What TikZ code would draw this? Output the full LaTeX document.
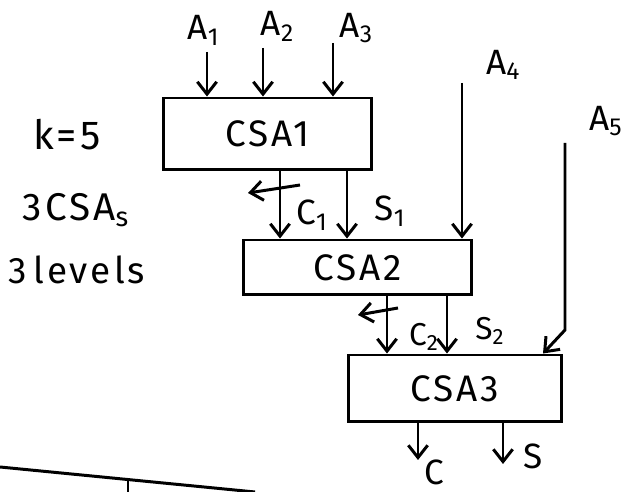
\documentclass[tikz,border=0pt]{standalone}
\usepackage{fontspec}
\newfontfamily\hand[LetterSpace=8]{Fira Sans}
\usepackage{tikz}
\usetikzlibrary{positioning,arrows.meta}

\begin{document}
\begin{tikzpicture}[x=0.02cm, y=-0.02cm, line width=1.7pt,
  csa node/.style={draw, rectangle, font=\hand\fontsize{21}{24}\selectfont},
  label node/.style={inner sep=1pt, font=\hand\fontsize{20}{24}\selectfont},
  arr/.style={-{Straight Barb[length=7pt,width=11pt]}}]
  \useasboundingbox (0,0) rectangle (636,492);
  % the three adders
  \node[csa node, minimum width=4.18cm, minimum height=1.44cm] (csa1) at (267.5,134) {CSA1};
  \node[csa node, minimum width=4.58cm, minimum height=1.1cm] (csa2) at (357.5,267.5) {CSA2};
  \node[csa node, minimum width=4.28cm, minimum height=1.34cm] (csa3) at (455,388.5) {CSA3};
  % inputs
  \coordinate (t1) at (207,52);
  \coordinate (t2) at (263,48);
  \coordinate (t3) at (333,43);
  \coordinate (t4) at (462,83);
  \coordinate (t5) at (565,143);
  \coordinate (b5) at (565,330);
  \node[label node, above=2pt of t1, xshift=-2pt] (a1) {A\textsubscript{1}};
  \node[label node, above right=2pt and -3pt of t2] (a2) {A\textsubscript{2}};
  \node[label node, above right=-2pt and 2pt of t3] (a3) {A\textsubscript{3}};
  \node[label node, above right=0pt and 12pt of t4] (a4) {A\textsubscript{4}};
  \node[label node, above right=2pt and 12pt of t5] (a5) {A\textsubscript{5}};
  \draw[arr] (t1) -- (t1 |- csa1.north);
  \draw[arr] (t2) -- (t2 |- csa1.north);
  \draw[arr] (t3) -- (t3 |- csa1.north);
  \draw[arr] (t4) -- (t4 |- csa2.north);
  \draw[arr] (t5) -- (b5) -- ([xshift=-0.44cm]b5 |- csa3.north);
  % carry and sum lines
  \coordinate (c1) at (280,185);
  \coordinate (s1) at (347,185);
  \coordinate (c2) at (387,308);
  \coordinate (s2) at (447,308);
  \draw[arr] (c1 |- csa1.south) -- (c1 |- csa2.north);
  \draw[arr] (s1 |- csa1.south) -- (s1 |- csa2.north);
  \draw[arr] ([shift={(20,0)}]c1) -- ([shift={(-32,8)}]c1);
  \draw[arr] (c2 |- csa2.south) -- (c2 |- csa3.north);
  \draw[arr] (s2 |- csa2.south) -- (s2 |- csa3.north);
  \draw[arr] ([shift={(11,0)}]c2) -- ([shift={(-29,7)}]c2);
  \node[label node] (lc1) at (312,215) {C\textsubscript{1}};
  \node[label node] (ls1) at (390,211) {S\textsubscript{1}};
  \node[label node, font=\hand\fontsize{18}{20}\selectfont] (lc2) at (424,337) {C\textsubscript{2}};
  \node[label node, font=\hand\fontsize{18}{20}\selectfont] (ls2) at (490,331) {S\textsubscript{2}};
  % outputs
  \coordinate (ce) at (418,460);
  \coordinate (se) at (503,464);
  \draw[arr] (ce |- csa3.south) -- (ce);
  \draw[arr] (se |- csa3.south) -- (se);
  \node[label node, inner sep=0pt] (c) at (434,472) {C};
  \node[label node] (s) at (533,456) {S};
  % notes
  \node[label node, font=\hand\fontsize{23}{26}\selectfont] (k) at (67,135) {k=5};
  \node[label node, font=\hand\fontsize{22}{26}\selectfont] (n) at (76,210) {3CSA\textsubscript{s}};
  \node[label node, font=\hand\fontsize{21}{26}\selectfont] (lv) at (77,270) {3\,levels};
  % stray line at the bottom
  \draw (0,467) -- (255,492);
  \draw (128,480) -- (128,492);
\end{tikzpicture}
\end{document}
